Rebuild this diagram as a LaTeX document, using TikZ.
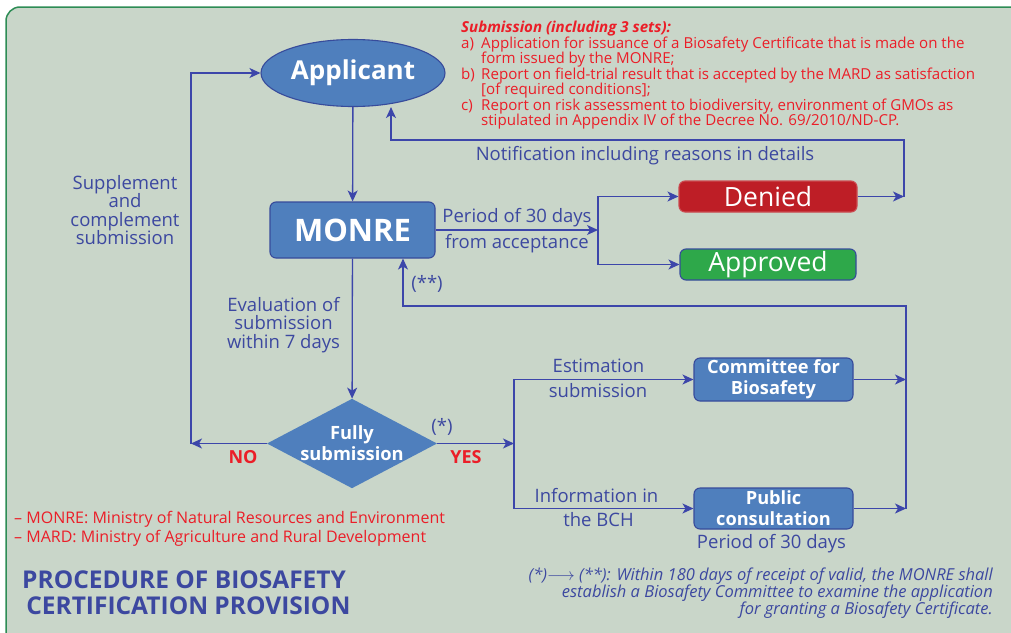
\documentclass[tikz,border=0pt]{standalone}
\usepackage{fontspec}
\setmainfont{Open Sans}
\usetikzlibrary{shapes.geometric,arrows.meta}
\definecolor{bgfill}{RGB}{201,214,201}
\definecolor{framegreen}{RGB}{45,140,85}
\definecolor{boxblue}{RGB}{79,127,189}
\definecolor{boxline}{RGB}{55,75,155}
\definecolor{txtblue}{RGB}{60,72,160}
\definecolor{lineblue}{RGB}{60,70,170}
\definecolor{txtred}{RGB}{235,30,40}
\definecolor{deniedred}{RGB}{190,30,38}
\definecolor{approvedgreen}{RGB}{46,168,74}

\tikzset{
  lbl/.style={text=txtblue, inner sep=0pt, font=\fontsize{18.5}{18.5}\selectfont, align=center},
  box/.style={rectangle, rounded corners=6pt, draw=boxline, line width=1.1pt, fill=boxblue, text=white, inner sep=0pt, align=center},
  conn/.style={draw=lineblue, line width=1.3pt},
}

\begin{document}
\begin{tikzpicture}[x=1pt, y=-1pt, >={Stealth[length=11pt,width=10pt,inset=3pt]}]
  \useasboundingbox (0,0) rectangle (1011,632);
  \fill[white] (0,0) rectangle (1011,632);
  \draw[framegreen, fill=bgfill, line width=1.5pt, rounded corners=14pt] (6,7) rectangle (1040,660);
  % Nodes
  \node (app) [ellipse, draw=boxline, line width=1.1pt, fill=boxblue, text=white, minimum width=184pt, minimum height=67pt, inner sep=0pt, font=\fontsize{26}{26}\selectfont\bfseries] at (353,73) {Applicant};
  \node (monre) [box, minimum width=165pt, minimum height=56pt, font=\fontsize{31}{31}\selectfont\bfseries] at (352.5,230) {MONRE};
  \node (denied) [box, draw=deniedred!80!white, fill=deniedred, minimum width=178pt, minimum height=31pt, font=\fontsize{26.5}{26.5}\selectfont] at (768,196.5) {Denied};
  \node (approved) [box, fill=approvedgreen, minimum width=176pt, minimum height=31pt, font=\fontsize{26.5}{26.5}\selectfont] at (768,264.5) {Approved};
  \node (fully) [diamond, aspect=1.9, fill=boxblue, text=white, minimum width=170pt, minimum height=89pt, inner sep=0pt, align=center, font=\fontsize{18.3}{21}\selectfont\bfseries] at (352,443.5) {Fully\\submission};
  \node (comm) [box, minimum width=159pt, minimum height=43pt, font=\fontsize{18.2}{21}\selectfont\bfseries] at (773.5,379.5) {Committee for\\Biosafety};
  \node (pub) [box, minimum width=159pt, minimum height=41pt, font=\fontsize{18.2}{21}\selectfont\bfseries] at (773.5,508.5) {Public\\consultation};
  % Junctions
  \coordinate (noend) at (191,443.5);
  \coordinate (split) at (598,230);
  \coordinate (dend) at (904,196.5);
  \coordinate (nturn) at (391,140);
  \coordinate (yend) at (514,443.5);
  \coordinate (cend) at (906,379.5);
  \coordinate (pend) at (906,508.5);
  \coordinate (sturn) at (403,306);
  % Labels
  \node (suppl) [lbl, anchor=north] at (125,175) {Supplement\\and\\complement\\submission};
  \node (evalu) [lbl, anchor=north] at (283.5,297) {Evaluation of\\submission\\within 7 days};
  \node (notif) [lbl, anchor=base] at (645,160) {Notification including reasons in details};
  \node (per-a) [lbl, anchor=base] at (517,222) {Period of 30 days};
  \node (per-b) [lbl, anchor=base] at (517,248) {from acceptance};
  \node (star2) [lbl] at (427,284) {(**)};
  \node (star1) [lbl] at (442,427) {(*)};
  \node (no) [text=txtred, font=\fontsize{18}{18}\selectfont\bfseries, anchor=base, inner sep=0pt] at (243,463) {NO};
  \node (yes) [text=txtred, font=\fontsize{18}{18}\selectfont\bfseries, anchor=base, inner sep=0pt] at (466,463) {YES};
  \node (est-a) [lbl, anchor=base] at (598.5,372) {Estimation};
  \node (est-b) [lbl, anchor=base] at (598,397.5) {submission};
  \node (inf-a) [lbl, anchor=base] at (596.5,502) {Information in};
  \node (inf-b) [lbl, anchor=base] at (598.5,526) {the BCH};
  \node (per-c) [lbl, anchor=base] at (771.5,548) {Period of 30 days};
  % Texts
  \node (subm) [text=txtred, inner sep=0pt, anchor=north west, align=left, font=\fontsize{15.1}{15.5}\selectfont] at (461,21)
    {\textbf{\textit{Submission (including 3 sets):}}\\
     \makebox[20pt][l]{a)}Application for issuance of a Biosafety Certificate that is made on the\\
     \hspace*{20pt}form issued by the MONRE;\\
     \makebox[20pt][l]{b)}Report on field-trial result that is accepted by the MARD as satisfaction\\
     \hspace*{20pt}[of required conditions];\\
     \makebox[20pt][l]{c)}Report on risk assessment to biodiversity, environment of GMOs as\\
     \hspace*{20pt}stipulated in Appendix IV of the Decree No. 69/2010/ND-CP.};
  \node (abbr) [text=txtred, inner sep=0pt, anchor=north west, align=left, font=\fontsize{16}{19}\selectfont] at (14,511)
    {-- MONRE: Ministry of Natural Resources and Environment\\
     -- MARD: Ministry of Agriculture and Rural Development};
  \node (title) [text=txtblue, inner sep=0pt, anchor=north west, align=left, font=\fontsize{24.5}{26}\selectfont\bfseries] at (22,571)
    {PROCEDURE OF BIOSAFETY\\ \,CERTIFICATION PROVISION};
  \node (note) [text=txtblue, inner sep=0pt, anchor=north east, align=right, font=\fontsize{16.5}{17}\selectfont\itshape] at (993,568)
    {(*)$\longrightarrow$ (**): Within 180 days of receipt of valid, the MONRE shall\\
     establish a Biosafety Committee to examine the application\\
     for granting a Biosafety Certificate.};
  % Arrow
  \draw[conn, ->] (app) -- (monre);
  \draw[conn, ->] (monre) -- (fully);
  \draw[conn, ->] (fully) -- (noend);
  \draw[conn, ->] (noend) |- (app);
  \draw[conn, ->] (monre) -- (split);
  \draw[conn, ->] (split) |- (denied);
  \draw[conn, ->] (split) |- (approved);
  \draw[conn, ->] (denied) -- (dend);
  \draw[conn, ->] (dend) |- (nturn) -- (nturn |- app.south);
  \draw[conn, ->] (fully) -- (yend);
  \draw[conn, ->] (yend) |- (comm);
  \draw[conn, ->] (yend) |- (pub);
  \draw[conn, ->] (comm) -- (cend);
  \draw[conn, ->] (pub) -- (pend);
  \draw[conn, ->] (pend) |- (sturn) -- (sturn |- monre.south);
\end{tikzpicture}
\end{document}
